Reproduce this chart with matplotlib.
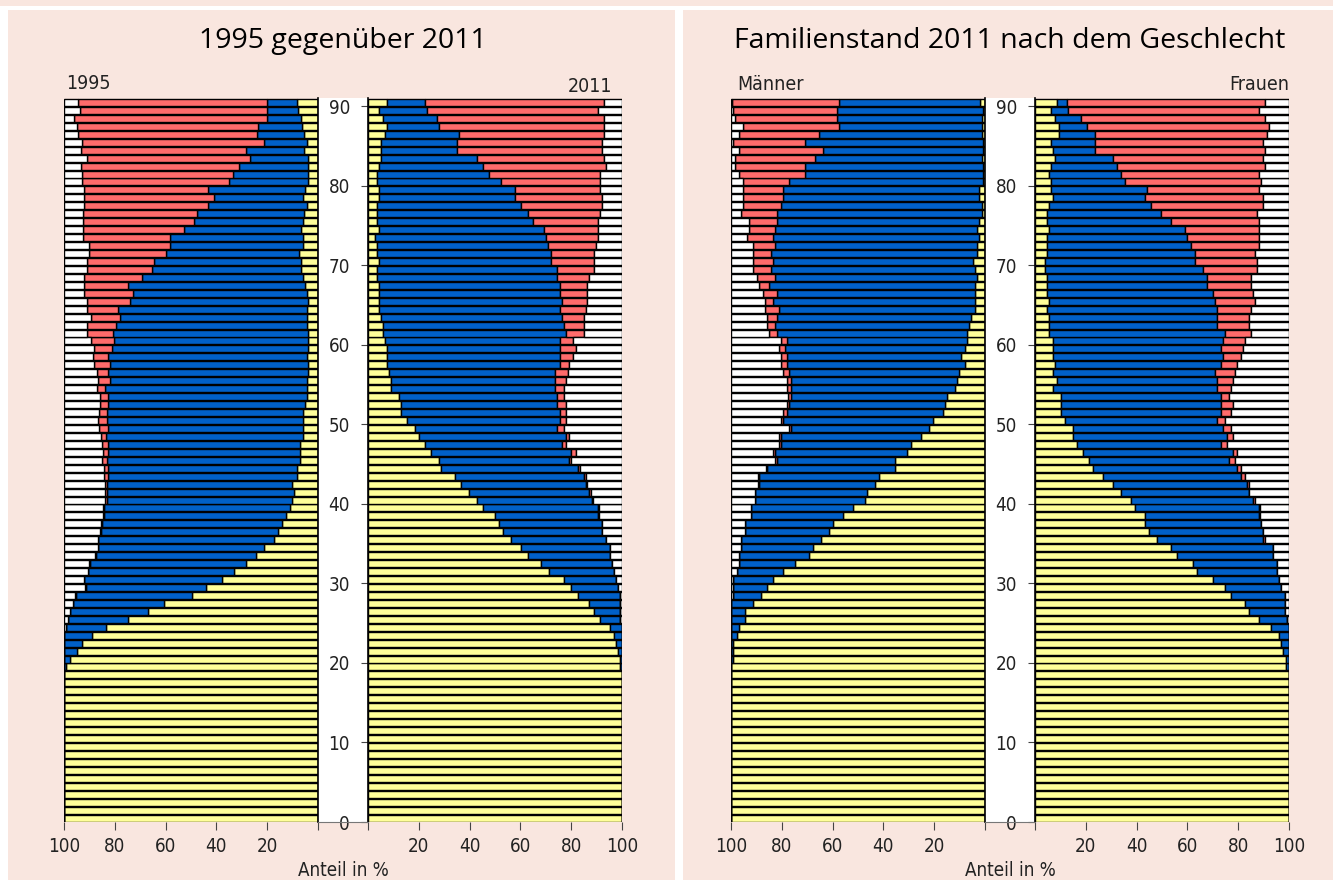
import numpy as np
import matplotlib
matplotlib.use("Agg")
import matplotlib.pyplot as plt
from matplotlib import font_manager as fm
from matplotlib.patches import Rectangle
from matplotlib.lines import Line2D

# ---------------- data (shares in %, ages 0..90) ----------------
ages = np.arange(91)

ledig_1995 = [100] * 18 + [
    100, 99.2,
    97.6, 95.0, 92.8, 88.8, 83.6, 74.9, 66.8, 60.6, 49.7, 44.1,
    37.9, 33.1, 28.5, 24.4, 21.3, 17.3, 15.6, 14.0, 12.6, 11.0,
    10.1, 9.4, 10.1, 8.1, 8.1, 7.1, 7.1, 7.1, 5.8, 5.8,
    5.8, 5.8, 5.1, 4.5, 4.5, 4.5, 3.8, 3.8, 4.5, 3.8,
    3.8, 3.8, 4.5, 4.5, 4.5, 3.8, 4.5, 5.1, 6.0, 6.8,
    6.8, 7.6, 6.0, 6.0, 6.8, 6.0, 5.4, 4.5, 6.0, 5.1,
    3.8, 3.8, 3.8, 3.8, 5.4, 4.5, 5.4, 6.2, 6.8, 7.7,
    8.4]
verh_1995 = [0] * 18 + [
    0, 0.8,
    2.4, 5.0, 7.2, 11.2, 15.6, 23.4, 30.8, 35.7, 45.6, 47.2,
    54.1, 57.3, 61.3, 63.0, 65.2, 69.2, 70.0, 70.9, 71.5, 73.1,
    73.1, 73.8, 73.1, 74.4, 74.4, 76.1, 75.4, 75.4, 77.8, 76.7,
    77.4, 77.4, 77.4, 78.0, 79.4, 77.4, 78.7, 78.1, 78.0, 77.3,
    76.5, 77.0, 75.0, 73.5, 74.1, 70.2, 68.2, 69.6, 63.2, 58.4,
    57.6, 52.2, 52.3, 52.3, 45.8, 42.7, 42.4, 38.7, 34.9, 38.1,
    31.4, 29.8, 27.4, 23.0, 22.8, 16.6, 18.7, 17.3, 13.4, 12.5,
    11.8]
verw_1995 = [0] * 18 + [
    0, 0,
    0, 0, 0, 0, 0, 0.2, 0.2, 0.2, 0.2, 0.3,
    0.3, 0.3, 0.3, 0.3, 0.3, 0.3, 0.3, 0.4, 0.5, 0.5,
    0.6, 0.6, 0.7, 1.7, 1.7, 2.0, 2.0, 2.4, 2.0, 3.6,
    3.3, 2.9, 3.3, 3.3, 3.2, 4.6, 4.6, 6.2, 6.2, 7.0,
    9.2, 10.3, 11.6, 11.5, 12.5, 17.1, 19.3, 17.3, 22.8, 25.9,
    26.7, 30.5, 32.0, 34.4, 40.1, 44.0, 44.9, 48.8, 51.1, 48.8,
    57.6, 59.2, 62.2, 64.3, 65.2, 71.7, 70.3, 71.5, 75.7, 73.5,
    74.2]
gesch_1995 = [0] * 18 + [
    0, 0,
    0, 0, 0, 0, 0.8, 1.5, 2.2, 3.5, 4.5, 8.4,
    7.7, 9.3, 9.9, 12.3, 13.2, 13.2, 14.1, 14.7, 15.4, 15.4,
    16.2, 16.2, 16.1, 15.8, 15.8, 14.8, 15.5, 15.1, 14.4, 13.9,
    13.5, 13.9, 14.2, 14.2, 12.9, 13.5, 12.9, 11.9, 11.3, 11.9,
    10.5, 8.9, 8.9, 10.5, 8.9, 8.9, 8.0, 8.0, 8.0, 8.9,
    8.9, 9.7, 9.7, 7.3, 7.3, 7.3, 7.3, 8.0, 8.0, 8.0,
    7.2, 7.2, 6.6, 8.9, 6.6, 7.2, 5.6, 5.0, 4.1, 6.3,
    5.6]

ledig_2011 = [100] * 18 + [
    100, 99.1,
    99.1, 98.3, 97.5, 96.7, 95.1, 91.2, 88.8, 87.2, 82.5, 80.1,
    77.0, 71.4, 68.3, 62.8, 60.4, 56.4, 53.3, 51.7, 50.1, 45.4,
    43.0, 39.9, 36.7, 34.3, 28.8, 28.0, 24.9, 22.5, 20.1, 18.6,
    15.4, 13.0, 13.0, 12.2, 9.1, 9.1, 8.3, 7.5, 7.5, 7.5,
    6.7, 5.9, 5.9, 5.1, 4.3, 4.3, 4.3, 4.3, 3.6, 3.6,
    4.3, 3.6, 3.6, 2.8, 4.3, 3.6, 3.6, 3.6, 4.3, 4.3,
    3.6, 3.6, 4.3, 5.1, 5.1, 5.1, 6.7, 7.5, 5.9, 4.3,
    7.5]
verh_2011 = [0] * 18 + [
    0, 0.9,
    0.9, 1.7, 2.5, 3.3, 4.9, 7.9, 10.3, 11.9, 16.6, 18.2,
    20.5, 25.3, 27.6, 32.3, 34.7, 37.2, 38.7, 40.3, 40.3, 45.0,
    45.0, 47.3, 49.0, 50.6, 53.7, 51.3, 55.2, 53.7, 57.7, 56.0,
    60.0, 62.4, 61.6, 62.4, 64.7, 64.7, 65.5, 67.9, 67.9, 67.9,
    68.7, 71.9, 71.1, 71.1, 71.1, 71.9, 71.1, 71.1, 71.0, 71.0,
    67.9, 68.6, 67.1, 67.1, 64.8, 61.5, 59.2, 56.8, 53.7, 53.7,
    48.9, 44.2, 41.1, 37.9, 30.0, 30.0, 29.2, 20.5, 21.3, 19.0,
    15.0]
verw_2011 = [0] * 18 + [
    0, 0,
    0, 0, 0, 0, 0, 0, 0, 0, 0, 0,
    0, 0, 0, 0, 0, 0, 0.2, 0.3, 0.4, 0.4,
    0.5, 0.5, 0.7, 0.8, 0.8, 0.8, 1.6, 1.6, 1.5, 2.4,
    2.4, 2.4, 3.2, 2.4, 3.2, 4.0, 4.8, 3.9, 5.5, 6.3,
    5.5, 7.1, 7.9, 8.7, 10.3, 10.2, 11.0, 11.0, 12.6, 14.2,
    16.6, 16.6, 18.9, 20.5, 21.3, 25.3, 28.4, 31.6, 34.0, 33.2,
    38.7, 43.4, 48.2, 49.8, 56.9, 56.9, 56.9, 64.8, 65.6, 67.1,
    70.3]
gesch_2011 = [0] * 18 + [
    0, 0,
    0, 0, 0, 0, 0, 0.9, 0.9, 0.9, 0.9, 1.7,
    2.5, 3.3, 4.1, 4.9, 4.9, 6.4, 7.8, 7.7, 9.2, 9.2,
    11.5, 12.3, 13.6, 14.3, 16.7, 19.9, 18.3, 22.2, 20.7, 23.0,
    22.2, 22.2, 22.2, 23.0, 23.0, 22.2, 21.4, 20.7, 19.1, 18.3,
    19.1, 15.1, 15.1, 15.1, 14.3, 13.6, 13.6, 13.6, 12.8, 11.2,
    11.2, 11.2, 10.4, 9.6, 9.6, 9.6, 8.8, 8.0, 8.0, 8.8,
    8.8, 8.8, 6.4, 7.2, 8.0, 8.0, 7.2, 7.2, 7.2, 9.6,
    7.2]

ledig_m = [100] * 18 + [
    100, 100,
    99.1, 99.1, 99.1, 97.5, 96.7, 94.4, 94.4, 91.2, 88.1, 85.7,
    83.3, 79.4, 74.7, 69.2, 67.6, 64.4, 61.3, 59.7, 55.8, 51.8,
    47.1, 46.3, 43.2, 41.6, 35.3, 35.3, 30.6, 29.0, 25.1, 21.9,
    20.3, 16.4, 15.6, 14.8, 11.7, 10.9, 10.1, 7.7, 9.3, 7.7,
    7.0, 7.0, 6.2, 5.4, 3.8, 3.8, 3.8, 3.8, 3.0, 3.8,
    4.6, 3.0, 3.0, 2.2, 3.0, 2.2, 1.3, 1.3, 2.2, 2.2,
    0.7, 0.7, 0.7, 1.3, 0.7, 0.7, 1.3, 1.3, 1.3, 0.7,
    2.0]
verh_m = [0] * 18 + [
    0, 0,
    0.9, 0.9, 0.9, 2.5, 3.3, 5.6, 5.6, 8.8, 11.0, 13.4,
    15.8, 18.1, 22.0, 27.5, 28.3, 31.5, 33.1, 34.7, 36.2, 40.2,
    43.3, 44.1, 45.6, 47.2, 50.4, 46.5, 51.9, 51.2, 55.1, 54.3,
    59.1, 61.4, 61.4, 61.4, 64.5, 65.3, 66.9, 70.1, 68.5, 70.9,
    70.8, 74.8, 76.3, 76.4, 77.2, 79.5, 78.0, 81.1, 79.5, 80.3,
    78.7, 81.1, 79.5, 81.1, 79.5, 79.6, 80.5, 78.9, 77.2, 77.2,
    76.3, 70.0, 70.0, 65.5, 62.9, 70.0, 63.9, 56.0, 56.8, 57.4,
    55.3]
verw_m = [0] * 18 + [
    0, 0,
    0, 0, 0, 0, 0, 0, 0, 0, 0, 0,
    0, 0, 0, 0, 0, 0, 0, 0, 0, 0,
    0, 0.2, 0.4, 0.6, 0.5, 0.7, 0.8, 0.8, 0.8, 0.8,
    0.8, 1.6, 0.8, 1.2, 1.6, 1.6, 2.4, 2.4, 2.4, 2.4,
    2.4, 3.1, 3.2, 3.9, 5.5, 3.2, 5.5, 3.9, 7.1, 7.1,
    7.9, 7.1, 8.7, 10.3, 10.3, 11.0, 14.1, 14.9, 15.7, 15.7,
    18.1, 26.0, 27.6, 31.5, 33.1, 28.4, 31.5, 37.8, 40.3, 41.2,
    42.4]
gesch_m = [0] * 18 + [
    0, 0,
    0, 0, 0, 0, 0, 0, 0, 0, 0.9, 0.9,
    0.9, 2.5, 3.3, 3.3, 4.1, 4.1, 5.6, 5.6, 8.0, 8.0,
    9.6, 9.4, 10.8, 10.6, 13.8, 17.5, 16.7, 19.0, 19.0, 23.0,
    19.8, 20.6, 22.2, 22.6, 22.2, 22.2, 20.6, 19.8, 19.8, 19.0,
    19.8, 15.1, 14.3, 14.3, 13.5, 13.5, 12.7, 11.2, 10.4, 8.8,
    8.8, 8.8, 8.8, 6.4, 7.2, 7.2, 4.1, 4.9, 4.9, 4.9,
    4.9, 3.3, 1.7, 1.7, 3.3, 0.9, 3.3, 4.9, 1.6, 0.7,
    0.3]

ledig_f = [100] * 18 + [
    100, 98.8,
    98.8, 97.5, 96.7, 95.9, 92.8, 88.1, 84.1, 82.5, 77.0, 74.7,
    69.9, 63.6, 62.1, 55.8, 53.4, 47.9, 44.8, 43.2, 43.2, 39.2,
    37.7, 33.7, 30.6, 26.6, 22.7, 21.1, 18.8, 16.4, 14.8, 14.8,
    11.7, 10.1, 10.1, 10.1, 7.0, 8.5, 7.0, 7.7, 7.0, 7.0,
    7.0, 5.4, 5.4, 5.4, 4.6, 5.4, 4.6, 4.6, 4.6, 3.8,
    3.8, 4.6, 4.6, 4.6, 5.4, 4.6, 4.6, 5.4, 7.0, 6.2,
    6.2, 5.4, 6.2, 7.7, 7.0, 6.2, 9.3, 9.3, 7.7, 6.2,
    8.5]
verh_f = [0] * 18 + [
    0, 1.2,
    1.2, 2.5, 3.3, 4.1, 7.2, 11.0, 14.2, 15.8, 21.3, 22.0,
    26.0, 31.5, 33.0, 37.8, 40.2, 41.7, 44.8, 45.6, 44.9, 48.9,
    48.0, 50.4, 52.7, 54.4, 56.7, 55.1, 59.0, 56.7, 60.7, 59.1,
    59.8, 63.0, 63.0, 63.0, 64.5, 63.0, 63.7, 65.4, 66.9, 66.1,
    66.9, 69.3, 66.1, 66.1, 66.9, 65.3, 65.3, 63.0, 63.0, 62.2,
    59.1, 58.3, 56.7, 55.1, 53.5, 48.8, 44.9, 40.1, 36.2, 37.8,
    29.1, 28.3, 26.0, 22.9, 16.5, 17.3, 14.2, 11.0, 10.5, 6.9,
    4.2]
verw_f = [0] * 18 + [
    0, 0,
    0, 0, 0, 0, 0, 0, 0, 0, 0, 0,
    0, 0, 0, 0, 0.2, 1.1, 0.3, 0.3, 0.3, 0.5,
    0.8, 0.3, 0.8, 1.5, 1.6, 2.4, 1.6, 2.4, 2.3, 3.1,
    3.2, 3.9, 4.7, 3.1, 5.5, 6.3, 7.9, 6.3, 7.1, 8.7,
    8.6, 10.2, 12.6, 12.6, 13.4, 15.8, 15.8, 17.3, 17.3, 21.3,
    24.4, 23.6, 26.8, 28.4, 29.2, 34.7, 37.8, 44.1, 46.4, 44.1,
    53.5, 54.4, 58.4, 59.0, 67.1, 66.1, 67.7, 71.7, 72.4, 75.0,
    77.9]
gesch_f = [0] * 18 + [
    0, 0,
    0, 0, 0, 0, 0, 0.9, 1.7, 1.7, 1.7, 3.3,
    4.1, 4.9, 4.9, 6.4, 6.2, 9.3, 10.1, 10.9, 11.6, 11.4,
    13.5, 15.6, 15.9, 17.5, 19.0, 21.4, 20.6, 24.5, 22.2, 23.0,
    25.3, 23.0, 22.2, 23.8, 23.0, 22.2, 21.4, 20.6, 19.0, 18.2,
    17.5, 15.1, 15.9, 15.9, 15.1, 13.5, 14.3, 15.1, 15.1, 12.7,
    12.7, 13.5, 11.9, 11.9, 11.9, 11.9, 12.7, 10.4, 10.4, 11.9,
    11.2, 11.9, 9.4, 10.4, 9.4, 10.4, 8.8, 8.0, 9.4, 11.9,
    9.4]

age_ticks = [0, 10, 20, 30, 40, 50, 60, 70, 80, 90]
pct_ticks = [0, 20, 40, 60, 80, 100]
pct_labels = ["", "20", "40", "60", "80", "100"]

# ---------------- styling ----------------
COLORS = ["#FFFF99", "#0060C8", "#FF6B6B", "#FFFFFF"]
PINK = "#F9E6DF"


def find_narrow():
    cands = []
    for f in fm.fontManager.ttflist:
        fn = f.fname.lower()
        if ("narrow" in fn or "condensed" in fn) and "bold" not in fn \
                and "italic" not in fn and "oblique" not in fn:
            cands.append(f.fname)
    order = ["liberationsansnarrow-regular", "dejavusanscondensed.ttf",
             "condensed-light", "condensed-regular", "narrow", "condensed"]
    for key in order:
        for c in cands:
            if key in c.lower():
                return c
    return None


_narrow_path = find_narrow()


def NF(size):
    if _narrow_path:
        return fm.FontProperties(fname=_narrow_path, size=size)
    return fm.FontProperties(family="DejaVu Sans", size=size)


avail = {f.name for f in fm.fontManager.ttflist}
TITLEF = "Open Sans" if "Open Sans" in avail else "DejaVu Sans"

W, H = 1333, 880
fig = plt.figure(figsize=(W / 100, H / 100), dpi=100, facecolor="white")


def fx(px):
    return px / W


def fy(py):
    return 1 - py / H


def frect(x0, y0, x1, y1, color):
    fig.patches.append(Rectangle((fx(x0), fy(y1)), fx(x1) - fx(x0), fy(y0) - fy(y1),
                                 transform=fig.transFigure, facecolor=color,
                                 edgecolor="none", zorder=-10))


# backgrounds
frect(0, 0, W, 6, PINK)
frect(8, 10, 675, H, PINK)
frect(683, 10, W, H, PINK)

TOP, BOT = 98.5, 822


def make_ax(x0, x1):
    ax = fig.add_axes([fx(x0), fy(BOT), fx(x1) - fx(x0), (BOT - TOP) / H])
    ax.set_facecolor("none")
    ax.set_ylim(0, 91)
    for s in ax.spines.values():
        s.set_visible(False)
    return ax


def draw(ax, series, mirror):
    left = np.zeros(len(ages))
    for vals, col in zip(series, COLORS):
        v = np.asarray(vals, dtype=float)
        ax.barh(ages + 0.5, v, left=left, height=0.88, color=col,
                edgecolor="black", linewidth=1.0)
        left = left + v
    ax.set_xlim((100, 0) if mirror else (0, 100))
    ax.set_xticks(pct_ticks)
    ax.set_xticklabels(pct_labels, fontproperties=NF(13.5))
    ax.tick_params(axis="x", length=6, width=0.8, color="#444444", pad=5,
                   labelcolor="#222222")
    if mirror:
        ax.spines["right"].set_visible(True)
        ax.spines["right"].set_linewidth(1.2)
        ax.set_yticks([])
    else:
        ax.spines["left"].set_visible(True)
        ax.spines["left"].set_linewidth(1.2)
        ax.set_yticks(age_ticks)
        ax.set_yticklabels([str(a) for a in age_ticks], fontproperties=NF(13.5))
        ax.tick_params(axis="y", length=5, width=0.8, color="#444444", pad=8,
                       labelcolor="#222222")


def panel(x_l0, x_l1, x_r0, x_r1, left_series, right_series):
    frect(x_l1, TOP, x_r0, BOT, "white")
    fig.add_artist(Line2D([fx(x_l1), fx(x_r0)], [fy(BOT), fy(BOT)],
                          transform=fig.transFigure, color="#777777", lw=0.8))
    axl = make_ax(x_l0, x_l1)
    axr = make_ax(x_r0, x_r1)
    draw(axl, left_series, True)
    draw(axr, right_series, False)
    fig.text(fx((x_l1 + x_r0) / 2), fy(876), "Anteil in %", ha="center", va="baseline",
             fontproperties=NF(13.5), color="#222222")


panel(64, 318, 368, 622,
      [ledig_1995, verh_1995, verw_1995, gesch_1995],
      [ledig_2011, verh_2011, verw_2011, gesch_2011])
panel(731, 985, 1035, 1289,
      [ledig_m, verh_m, verw_m, gesch_m],
      [ledig_f, verh_f, verw_f, gesch_f])

# titles and labels
fig.text(fx(343), fy(48), "1995 gegenüber 2011", ha="center", va="baseline",
         fontfamily=TITLEF, fontsize=20.5, fontweight="medium", color="black")
fig.text(fx(1010), fy(48), "Familienstand 2011 nach dem Geschlecht", ha="center",
         va="baseline", fontfamily=TITLEF, fontsize=20.5, fontweight="medium",
         color="black")
fig.text(fx(66), fy(89), "1995", ha="left", va="baseline", fontproperties=NF(14),
         color="#222222")
fig.text(fx(612), fy(92), "2011", ha="right", va="baseline", fontproperties=NF(14),
         color="#222222")
fig.text(fx(737), fy(90), "Männer", ha="left", va="baseline", fontproperties=NF(14),
         color="#222222")
fig.text(fx(1289), fy(90), "Frauen", ha="right", va="baseline", fontproperties=NF(14),
         color="#222222")

fig.savefig("out.png", dpi=100, facecolor="white")
